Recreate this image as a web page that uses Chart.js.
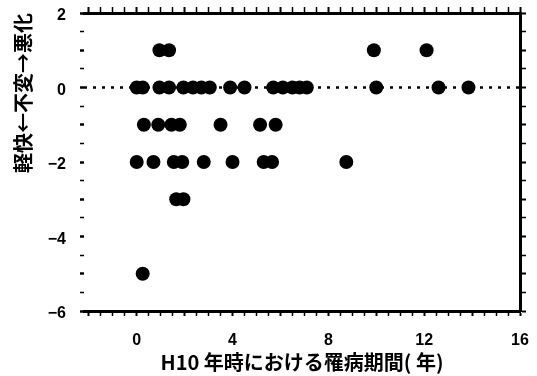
<!DOCTYPE html>
<html>
<head>
<meta charset="utf-8">
<script src="https://cdn.jsdelivr.net/npm/chart.js@4"></script>
<style>
  html, body { margin: 0; padding: 0; background: #fff; }
</style>
</head>
<body>
<canvas id="myChart" width="537" height="376"></canvas>
<script>
// 罹病期間 (年) と 変化 (悪化 +, 軽快 -)
const durations = [
  0.95, 1.35, 9.9, 12.1,
  0, 0.25, 0.95, 1.35, 1.95, 2.35, 2.7, 3.05, 3.9, 4.5, 5.7, 6.1, 6.5, 6.8, 7.1, 10.0, 12.6, 13.85,
  0.3, 0.9, 1.45, 1.8, 3.5, 5.15, 5.8,
  0, 0.7, 1.55, 1.9, 2.8, 4.0, 5.3, 5.65, 8.75,
  1.65, 1.95,
  0.25
];
const changes = [
  1, 1, 1, 1,
  0, 0, 0, 0, 0, 0, 0, 0, 0, 0, 0, 0, 0, 0, 0, 0, 0, 0,
  -1, -1, -1, -1, -1, -1, -1,
  -2, -2, -2, -2, -2, -2, -2, -2, -2,
  -3, -3,
  -5
];
const xMin = -2.2, xMax = 16;
const yMin = -6, yMax = 2;
const xLabels = [0, 4, 8, 12, 16];
const yLabels = [-6, -4, -2, 0, 2];
const refLevel = 0;

const points = durations.map((d, i) => ({ x: d, y: changes[i] }));

function stepTicks(lo, hi, step) {
  const out = [];
  for (let v = lo; v <= hi + 1e-9; v += step) out.push({ value: Math.round(v * 10) / 10 });
  return out;
}
// fix a scale's size and drop the label overhang padding
function fixSize(w, h) {
  return s => {
    if (w != null) s.width = w;
    if (h != null) s.height = h;
    s.paddingTop = s.paddingBottom = s.paddingLeft = s.paddingRight = 0;
  };
}
const fmt = v => (v < 0 ? '\u2212' + Math.abs(v) : String(v));
const tickFont = { family: 'Liberation Sans', size: 16, weight: 'bold' };
const titleFont = { family: 'Noto Sans CJK JP', size: 20, weight: 'bold' };

new Chart(document.getElementById('myChart'), {
  data: {
    datasets: [
      {
        type: 'scatter',
        data: points,
        backgroundColor: '#000',
        borderWidth: 0,
        pointRadius: 7,
        pointHoverRadius: 7
      },
      {
        type: 'line',
        data: [{ x: xMin, y: refLevel }, { x: xMax, y: refLevel }],
        borderColor: '#000',
        borderWidth: 2.5,
        borderDash: [3, 6],
        pointRadius: 0,
        fill: false
      }
    ]
  },
  options: {
    responsive: false,
    animation: false,
    devicePixelRatio: 1,
    layout: { padding: 0, autoPadding: false },
    plugins: { legend: { display: false }, tooltip: { enabled: false } },
    scales: {
      x: {
        type: 'linear', position: 'bottom', min: xMin, max: xMax,
        afterBuildTicks: s => { s.ticks = stepTicks(-2, 16, 0.5); },
        afterFit: fixSize(null, 65),
        border: { display: true, color: '#000', width: 3 },
        grid: { drawOnChartArea: false, tickLength: 5, tickColor: '#000',
          tickWidth: c => (c.tick && c.tick.value % 2 === 0 ? 2 : 1.5) },
        ticks: { color: '#000', font: tickFont, padding: 15, maxRotation: 0, autoSkip: false,
          callback: v => (xLabels.includes(v) ? fmt(v) : '') },
        title: { display: true, text: 'H10 年時における罹病期間( 年)', color: '#000',
          font: titleFont, padding: { top: 0, bottom: 2 } }
      },
      x2: {
        type: 'linear', position: 'top', min: xMin, max: xMax,
        afterBuildTicks: s => { s.ticks = stepTicks(-2, 16, 0.5); },
        afterFit: fixSize(null, 13),
        border: { display: true, color: '#000', width: 3 },
        grid: { drawOnChartArea: false, tickLength: 6, tickColor: '#000',
          tickWidth: c => (c.tick && c.tick.value % 2 === 0 ? 2 : 1.5) },
        ticks: { display: false }
      },
      y: {
        type: 'linear', position: 'left', min: yMin, max: yMax,
        afterBuildTicks: s => { s.ticks = stepTicks(yMin, yMax, 0.5); },
        afterFit: fixSize(84, null),
        border: { display: false },
        grid: { drawOnChartArea: false, tickLength: 4, tickColor: '#000',
          tickWidth: c => (c.tick && Number.isInteger(c.tick.value) ? 2.5 : 1.5) },
        ticks: { color: '#000', font: tickFont, padding: 14, autoSkip: false, labelOffset: 3,
          callback: v => (yLabels.includes(v) ? fmt(v) : '') },
        title: { display: true, text: '軽快←不変→悪化', color: '#000', align: 'end',
          font: titleFont, padding: { top: 11, bottom: 0 } }
      },
      y2: {
        type: 'linear', position: 'right', min: yMin, max: yMax,
        afterBuildTicks: s => { s.ticks = stepTicks(yMin, yMax, 0.5); },
        afterFit: fixSize(17, null),
        border: { display: true, color: '#000', width: 3 },
        grid: { drawOnChartArea: false, tickLength: 6, tickColor: '#000',
          tickWidth: c => (c.tick && Number.isInteger(c.tick.value) ? 2 : 1.5) },
        ticks: { display: false }
      }
    }
  }
});
</script>
</body>
</html>
